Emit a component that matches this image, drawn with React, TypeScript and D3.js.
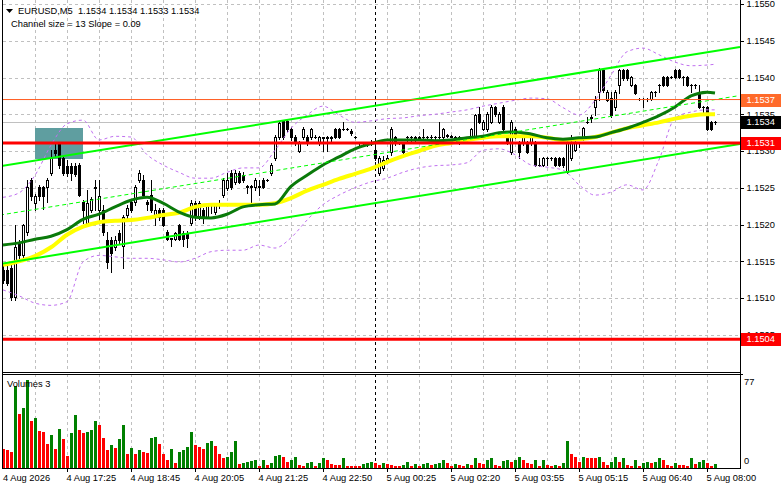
import React from "react";
import * as d3 from "d3";

// ---------- DATA ----------
const opens = [
1.15138,1.15138,1.15141,1.15101,1.15175,1.15158,1.15190,1.15261,1.15229,1.15251,
1.15251,1.15251,1.15270,1.15301,1.15311,1.15290,1.15280,1.15280,1.15280,1.15281,
1.15231,1.15202,1.15220,1.15251,1.15220,1.15220,1.15179,1.15179,1.15169,1.15188,
1.15171,1.15213,1.15231,1.15231,1.15261,1.15261,1.15231,1.15240,1.15212,1.15220,
1.15220,1.15190,1.15180,1.15180,1.15199,1.15188,1.15188,1.15202,1.15229,1.15210,
1.15220,1.15210,1.15227,1.15217,1.15227,1.15240,1.15250,1.15270,1.15258,1.15270,
1.15267,1.15251,1.15251,1.15251,1.15252,1.15261,1.15261,1.15270,1.15290,1.15319,
1.15341,1.15341,1.15330,1.15319,1.15300,1.15319,1.15319,1.15319,1.15319,1.15311,
1.15318,1.15319,1.15318,1.15330,1.15330,1.15330,1.15330,1.15327,1.15319,1.15311,
1.15311,1.15311,1.15311,1.15301,1.15270,1.15277,1.15288,1.15299,1.15319,1.15311,
1.15311,1.15319,1.15319,1.15319,1.15318,1.15319,1.15319,1.15319,1.15319,1.15319,
1.15319,1.15322,1.15320,1.15319,1.15319,1.15312,1.15315,1.15319,1.15319,1.15350,
1.15330,1.15330,1.15339,1.15360,1.15339,1.15360,1.15319,1.15299,1.15330,1.15311,
1.15311,1.15311,1.15311,1.15311,1.15281,1.15281,1.15290,1.15290,1.15290,1.15290,
1.15290,1.15271,1.15290,1.15301,1.15311,1.15319,1.15339,1.15345,1.15360,1.15380,
1.15410,1.15369,1.15372,1.15360,1.15390,1.15410,1.15410,1.15390,1.15390,1.15371,
1.15371,1.15371,1.15371,1.15380,1.15390,1.15401,1.15401,1.15401,1.15410,1.15410,
1.15401,1.15401,1.15390,1.15390,1.15380,1.15360,1.15360,1.15339,1.15340];

const highs = [
1.15145,1.15144,1.15145,1.15199,1.15179,1.15201,1.15261,1.15263,1.15241,1.15254,
1.15252,1.15263,1.15301,1.15311,1.15312,1.15293,1.15288,1.15284,1.15284,1.15284,
1.15233,1.15247,1.15237,1.15261,1.15261,1.15227,1.15190,1.15183,1.15184,1.15193,
1.15213,1.15227,1.15233,1.15254,1.15274,1.15267,1.15233,1.15261,1.15228,1.15222,
1.15222,1.15193,1.15182,1.15190,1.15201,1.15191,1.15191,1.15233,1.15232,1.15232,
1.15222,1.15229,1.15229,1.15229,1.15233,1.15263,1.15270,1.15274,1.15274,1.15273,
1.15271,1.15254,1.15254,1.15263,1.15261,1.15263,1.15262,1.15284,1.15322,1.15341,
1.15342,1.15342,1.15333,1.15322,1.15314,1.15333,1.15322,1.15331,1.15322,1.15320,
1.15319,1.15320,1.15320,1.15331,1.15331,1.15339,1.15331,1.15330,1.15320,1.15312,
1.15312,1.15312,1.15315,1.15307,1.15293,1.15293,1.15295,1.15333,1.15320,1.15312,
1.15312,1.15320,1.15320,1.15320,1.15320,1.15330,1.15320,1.15322,1.15320,1.15339,
1.15331,1.15323,1.15322,1.15320,1.15320,1.15319,1.15319,1.15331,1.15350,1.15360,
1.15342,1.15353,1.15363,1.15361,1.15353,1.15363,1.15322,1.15342,1.15333,1.15314,
1.15322,1.15314,1.15322,1.15314,1.15290,1.15292,1.15292,1.15292,1.15292,1.15292,
1.15292,1.15315,1.15322,1.15315,1.15312,1.15333,1.15346,1.15349,1.15375,1.15413,
1.15413,1.15383,1.15380,1.15383,1.15412,1.15412,1.15412,1.15402,1.15391,1.15372,
1.15372,1.15372,1.15382,1.15382,1.15391,1.15402,1.15402,1.15402,1.15412,1.15412,
1.15402,1.15402,1.15391,1.15391,1.15390,1.15361,1.15361,1.15341,1.15341];

const lows = [
1.15120,1.15118,1.15097,1.15097,1.15154,1.15154,1.15186,1.15233,1.15220,1.15233,
1.15221,1.15231,1.15267,1.15293,1.15277,1.15267,1.15266,1.15261,1.15266,1.15239,
1.15202,1.15198,1.15217,1.15220,1.15206,1.15186,1.15141,1.15135,1.15165,1.15173,
1.15141,1.15209,1.15217,1.15227,1.15258,1.15237,1.15220,1.15217,1.15199,1.15206,
1.15198,1.15179,1.15171,1.15179,1.15179,1.15171,1.15169,1.15199,1.15206,1.15208,
1.15202,1.15209,1.15216,1.15214,1.15222,1.15237,1.15247,1.15248,1.15255,1.15256,
1.15258,1.15243,1.15229,1.15247,1.15240,1.15250,1.15259,1.15267,1.15288,1.15316,
1.15316,1.15327,1.15315,1.15308,1.15299,1.15316,1.15308,1.15316,1.15318,1.15308,
1.15300,1.15300,1.15311,1.15318,1.15318,1.15329,1.15329,1.15322,1.15318,1.15305,
1.15307,1.15307,1.15308,1.15288,1.15267,1.15274,1.15285,1.15295,1.15308,1.15310,
1.15297,1.15311,1.15312,1.15311,1.15316,1.15318,1.15315,1.15311,1.15311,1.15318,
1.15318,1.15319,1.15319,1.15311,1.15310,1.15311,1.15314,1.15318,1.15316,1.15338,
1.15329,1.15327,1.15338,1.15348,1.15338,1.15327,1.15310,1.15296,1.15318,1.15290,
1.15308,1.15297,1.15308,1.15280,1.15280,1.15280,1.15281,1.15288,1.15280,1.15280,
1.15278,1.15270,1.15288,1.15300,1.15305,1.15315,1.15338,1.15339,1.15349,1.15369,
1.15380,1.15368,1.15346,1.15356,1.15379,1.15397,1.15397,1.15388,1.15378,1.15369,
1.15360,1.15368,1.15369,1.15375,1.15380,1.15388,1.15388,1.15399,1.15399,1.15399,
1.15390,1.15388,1.15380,1.15386,1.15358,1.15349,1.15329,1.15329,1.15337];

const closes = [
1.15124,1.15120,1.15101,1.15169,1.15158,1.15199,1.15251,1.15239,1.15239,1.15239,
1.15239,1.15261,1.15290,1.15297,1.15281,1.15270,1.15270,1.15270,1.15269,1.15240,
1.15220,1.15229,1.15235,1.15250,1.15239,1.15190,1.15149,1.15161,1.15179,1.15179,
1.15210,1.15222,1.15220,1.15251,1.15270,1.15240,1.15228,1.15220,1.15220,1.15210,
1.15199,1.15180,1.15181,1.15188,1.15180,1.15180,1.15182,1.15229,1.15210,1.15229,
1.15210,1.15227,1.15226,1.15227,1.15229,1.15261,1.15261,1.15251,1.15270,1.15258,
1.15261,1.15252,1.15252,1.15261,1.15251,1.15251,1.15261,1.15281,1.15319,1.15338,
1.15319,1.15330,1.15319,1.15311,1.15311,1.15330,1.15311,1.15330,1.15319,1.15319,
1.15319,1.15318,1.15319,1.15319,1.15319,1.15330,1.15330,1.15324,1.15319,1.15311,
1.15311,1.15311,1.15311,1.15290,1.15290,1.15288,1.15290,1.15330,1.15311,1.15311,
1.15299,1.15319,1.15319,1.15318,1.15319,1.15319,1.15319,1.15319,1.15319,1.15319,
1.15330,1.15320,1.15319,1.15319,1.15311,1.15315,1.15318,1.15330,1.15349,1.15339,
1.15339,1.15350,1.15360,1.15350,1.15350,1.15330,1.15311,1.15339,1.15319,1.15299,
1.15319,1.15299,1.15319,1.15281,1.15281,1.15290,1.15290,1.15290,1.15281,1.15281,
1.15281,1.15311,1.15311,1.15311,1.15311,1.15331,1.15339,1.15346,1.15369,1.15410,
1.15383,1.15380,1.15349,1.15380,1.15410,1.15399,1.15399,1.15401,1.15379,1.15371,
1.15371,1.15371,1.15380,1.15380,1.15390,1.15390,1.15390,1.15401,1.15401,1.15401,
1.15401,1.15390,1.15390,1.15390,1.15360,1.15360,1.15330,1.15330,1.15340];

const volumes = [
16,15,14,72,47,52,77,41,44,32,31,21,29,16,34,25,10,30,46,33,
30,31,33,41,37,26,15,20,17,25,37,12,17,12,15,14,13,26,27,21,
12,7,16,4,14,15,18,31,20,18,16,22,23,19,12,8,9,14,23,3,
4,5,6,7,1,7,2,4,10,11,9,5,7,9,2,1,4,5,1,4,
8,7,3,2,2,8,1,1,1,1,3,4,5,4,2,4,3,2,1,1,
2,5,1,3,1,3,4,2,3,4,7,4,1,3,2,1,3,2,8,4,
3,7,8,2,1,6,7,5,7,9,7,4,3,7,1,7,2,1,2,1,
4,23,12,9,5,9,8,8,8,9,5,2,5,9,5,8,2,1,7,1,
4,5,4,5,8,7,2,1,4,2,2,1,8,3,5,7,4,1,3];

const maIdx = [0,4,8,12,16,20,24,28,32,36,40,44,48,52,56,60,64,68,72,76,80,84,88,92,96,100,104,108,112,116,120,124,128,132,136,140,144,148,152,156,160,164,168,172,176,178];
const greenMA = [
1.15172,1.15175,1.15180,1.15184,1.15193,1.15207,1.15214,1.15224,1.15233,1.15237,
1.15229,1.15217,1.15210,1.15209,1.15214,1.15224,1.15227,1.15228,1.15252,1.15267,
1.15281,1.15292,1.15303,1.15310,1.15315,1.15315,1.15315,1.15314,1.15315,1.15318,
1.15320,1.15325,1.15326,1.15323,1.15318,1.15316,1.15318,1.15319,1.15325,1.15331,
1.15339,1.15348,1.15360,1.15375,1.15380,1.15379];
const yellowMA = [
1.15145,1.15150,1.15157,1.15169,1.15186,1.15197,1.15203,1.15205,1.15206,1.15209,
1.15213,1.15216,1.15224,1.15227,1.15227,1.15227,1.15227,1.15229,1.15236,1.15246,
1.15254,1.15262,1.15269,1.15276,1.15285,1.15293,1.15300,1.15307,1.15311,1.15315,
1.15318,1.15320,1.15320,1.15320,1.15318,1.15315,1.15316,1.15319,1.15325,1.15331,
1.15335,1.15339,1.15344,1.15348,1.15350,1.15350];
const bandUpper = [
1.15237,1.15243,1.15267,1.15308,1.15337,1.15342,1.15315,1.15320,1.15319,1.15295,
1.15281,1.15271,1.15263,1.15263,1.15271,1.15277,1.15277,1.15301,1.15331,1.15349,
1.15361,1.15349,1.15339,1.15341,1.15344,1.15345,1.15348,1.15350,1.15353,1.15356,
1.15361,1.15365,1.15369,1.15372,1.15371,1.15359,1.15349,1.15369,1.15403,1.15435,
1.15440,1.15431,1.15421,1.15416,1.15417,1.15418];
const bandLower = [
1.15111,1.15103,1.15093,1.15090,1.15095,1.15149,1.15158,1.15156,1.15154,1.15154,
1.15152,1.15149,1.15154,1.15163,1.15165,1.15165,1.15172,1.15168,1.15182,1.15206,
1.15227,1.15240,1.15250,1.15258,1.15263,1.15271,1.15277,1.15280,1.15281,1.15284,
1.15301,1.15303,1.15295,1.15281,1.15278,1.15274,1.15254,1.15240,1.15244,1.15254,
1.15247,1.15288,1.15345,1.15353,1.15356,1.15356];

const channelIdx = [0, 178];
const channelUpper = [1.15280, 1.15436];
const channelLower = [1.15147, 1.15304];

const zoneIdx = [8, 20];
const zonePrice = [1.15289, 1.15331];

const supportLevels = [1.15311, 1.15044];
const askLevel = 1.1537;
const bidLevel = 1.1534;

const priceTicks = [1.1505, 1.151, 1.1515, 1.152, 1.1525, 1.153, 1.1535, 1.154, 1.1545, 1.155];
const timeLabelIdx = [0, 16, 32, 48, 64, 80, 96, 112, 128, 144, 160, 176];
const timeLabels = ["4 Aug 2026", "4 Aug 17:25", "4 Aug 18:45", "4 Aug 20:05", "4 Aug 21:25", "4 Aug 22:50",
  "5 Aug 00:25", "5 Aug 02:20", "5 Aug 03:55", "5 Aug 05:15", "5 Aug 06:40", "5 Aug 08:00"];
const separatorIdx = 93;
const volMax = 77;

// ---------- LAYOUT ----------
const W = 781, H = 489;
const L = 3, R = 740, MAIN_B = 372, VOL_T = 374, VOL_B = 468;
const FONT = "'Liberation Sans', Arial, sans-serif";
const FS = 9.3;

export default function App() {
  const x = d3.scaleLinear().domain([0, 178]).range([3, 715]);
  const y = d3.scaleLinear().domain([1.151, 1.155]).range([298, 4]);
  const yv = d3.scaleLinear().domain([0, volMax]).range([467.5, 380]);

  const gridIdx = d3.range(8, 179, 8);
  const px = (i: number) => Math.round(x(i));

  const lineGen = d3.line<[number, number]>().x(d => x(d[0])).y(d => y(d[1])).curve(d3.curveMonotoneX);
  const mk = (arr: number[]) => lineGen(arr.map((v, k) => [maIdx[k], v] as [number, number])) || "";

  // channel extension to right axis
  const iLeft = x.invert(L), iRight = x.invert(R);
  const chan = (vals: number[], i: number) => vals[0] + (vals[1] - vals[0]) * (i - channelIdx[0]) / (channelIdx[1] - channelIdx[0]);
  const chanMid = [ (channelUpper[0] + channelLower[0]) / 2, (channelUpper[1] + channelLower[1]) / 2 ];

  const candles = opens.map((o, i) => {
    const c = closes[i];
    const h = Math.max(highs[i], o, c), l = Math.min(lows[i], o, c);
    const cx = px(i);
    const yTop = Math.round(y(Math.max(o, c)));
    const yBot = Math.round(y(Math.min(o, c)));
    const bull = c > o;
    const els: any[] = [];
    els.push(<line key="w" x1={cx + 0.5} x2={cx + 0.5} y1={Math.round(y(h))} y2={Math.round(y(l)) + 1} stroke="#000" strokeWidth={1} />);
    if (yBot - yTop < 1) {
      els.push(<line key="d" x1={cx - 1} x2={cx + 2} y1={yTop + 0.5} y2={yTop + 0.5} stroke="#000" strokeWidth={1} />);
    } else if (bull) {
      els.push(<rect key="b" x={cx - 0.5} y={yTop + 0.5} width={2} height={Math.max(1, yBot - yTop)} fill="#fff" stroke="#000" strokeWidth={1} />);
    } else {
      els.push(<rect key="b" x={cx - 1} y={yTop} width={3} height={Math.max(1, yBot - yTop + 1)} fill="#000" />);
    }
    return <g key={i}>{els}</g>;
  });

  const volBars = volumes.map((v, i) => {
    const up = i > 0 && v > volumes[i - 1];
    const top = Math.round(yv(v));
    return <rect key={i} x={px(i) - 1} y={top} width={3} height={Math.max(1, 468 - top)} fill={up ? "#008000" : "#ff0000"} />;
  });

  const labelBox = (p: number, bg: string, key: string) => {
    const yy = Math.round(y(p));
    return (
      <g key={key}>
        <rect x={741} y={yy - 6} width={40} height={13} fill={bg} />
        <text x={746.5} y={yy} dy="0.35em" fill="#fff" fontSize={FS} fontFamily={FONT}>{p.toFixed(4)}</text>
      </g>
    );
  };

  return (
    <svg width={W} height={H} style={{ position: "absolute", left: 0, top: 0, background: "#fff" }} xmlns="http://www.w3.org/2000/svg">
      <rect x={0} y={0} width={W} height={H} fill="#fff" />
      <defs>
        <clipPath id="mainClip"><rect x={L} y={0} width={R - L} height={MAIN_B} /></clipPath>
      </defs>

      {/* grid main */}
      <g stroke="#c0c0c0" strokeWidth={1} strokeDasharray="3,3">
        {priceTicks.map(p => <line key={p} x1={L} x2={R} y1={Math.round(y(p)) + 0.5} y2={Math.round(y(p)) + 0.5} />)}
        {gridIdx.filter(i => i !== separatorIdx).map(i => <line key={"v" + i} x1={px(i) + 0.5} x2={px(i) + 0.5} y1={0} y2={MAIN_B} />)}
        {gridIdx.map(i => <line key={"vv" + i} x1={px(i) + 0.5} x2={px(i) + 0.5} y1={VOL_T} y2={VOL_B} />)}
      </g>
      {/* period separator */}
      <g stroke="#000" strokeWidth={1} strokeDasharray="3,3">
        <line x1={px(separatorIdx) + 0.5} x2={px(separatorIdx) + 0.5} y1={0} y2={MAIN_B} />
        <line x1={px(separatorIdx) + 0.5} x2={px(separatorIdx) + 0.5} y1={VOL_T} y2={VOL_B} />
      </g>

      <g clipPath="url(#mainClip)">
        {/* zone rectangle */}
        <rect x={px(zoneIdx[0])} y={Math.round(y(zonePrice[1]))} width={px(zoneIdx[1]) - px(zoneIdx[0])}
          height={Math.round(y(zonePrice[0])) - Math.round(y(zonePrice[1]))} fill="#5f9ea0" />
        {/* bid line */}
        <line x1={L} x2={R} y1={Math.round(y(bidLevel)) + 0.5} y2={Math.round(y(bidLevel)) + 0.5} stroke="#c0c0c0" strokeWidth={1} />
        {candles}
        {/* bands */}
        <path d={mk(bandUpper)} fill="none" stroke="#c070f0" strokeWidth={1} strokeDasharray="3,3" />
        <path d={mk(bandLower)} fill="none" stroke="#c070f0" strokeWidth={1} strokeDasharray="3,3" />
        {/* MAs */}
        <path d={mk(yellowMA)} fill="none" stroke="#ffff00" strokeWidth={4} strokeLinejoin="round" />
        <path d={mk(greenMA)} fill="none" stroke="#0a7a0a" strokeWidth={3} strokeLinejoin="round" />
        {/* channel */}
        <line x1={x(iLeft) - 3} x2={R} y1={y(chan(channelUpper, iLeft - 0.75))} y2={y(chan(channelUpper, iRight))} stroke="#00ff00" strokeWidth={2} />
        <line x1={x(iLeft) - 3} x2={R} y1={y(chan(channelLower, iLeft - 0.75))} y2={y(chan(channelLower, iRight))} stroke="#00ff00" strokeWidth={2} />
        <line x1={x(iLeft) - 3} x2={R - 2} y1={y(chan(chanMid, iLeft - 0.75))} y2={y(chan(chanMid, iRight - 0.5))} stroke="#00ff00" strokeWidth={1} strokeDasharray="4,3" />
        {/* horizontal levels */}
        <line x1={L} x2={R} y1={y(askLevel)} y2={y(askLevel)} stroke="#ff5a1e" strokeWidth={1} />
        {supportLevels.map(p => <line key={p} x1={L} x2={R} y1={y(p)} y2={y(p)} stroke="#ff0000" strokeWidth={3} />)}
      </g>

      {/* volumes */}
      {volBars}

      {/* frames */}
      <g stroke="#000" strokeWidth={1}>
        <line x1={2.5} x2={2.5} y1={0} y2={VOL_B} />
        <line x1={R + 0.5} x2={R + 0.5} y1={0} y2={VOL_B + 0.5} />
        <line x1={2} x2={R + 1} y1={MAIN_B + 0.5} y2={MAIN_B + 0.5} />
        <line x1={2} x2={R + 3} y1={VOL_T + 0.5} y2={VOL_T + 0.5} />
        <line x1={2} x2={R + 1} y1={VOL_B + 0.5} y2={VOL_B + 0.5} />
        {priceTicks.map(p => <line key={"t" + p} x1={R} x2={R + 4} y1={Math.round(y(p)) + 0.5} y2={Math.round(y(p)) + 0.5} />)}
        {timeLabelIdx.slice(1).map(i => <line key={"xt" + i} x1={px(i) + 0.5} x2={px(i) + 0.5} y1={VOL_B} y2={VOL_B + 4} />)}
      </g>

      {/* price axis labels */}
      <g fontFamily={FONT} fontSize={FS} fill="#000">
        {priceTicks.map(p => <text key={p} x={746.5} y={y(p)} dy="0.35em">{p.toFixed(4)}</text>)}
        <text x={744} y={381.5} dy="0.35em">{volMax}</text>
        <text x={744} y={461} dy="0.35em">0</text>
        {timeLabels.map((t, k) => <text key={t} x={k === 0 ? 3 : px(timeLabelIdx[k]) - 0.5} y={481}>{t}</text>)}
      </g>

      {labelBox(askLevel, "#ff6a2a", "ask")}
      {labelBox(bidLevel, "#000000", "bid")}
      {labelBox(supportLevels[0], "#ff0000", "s1")}
      {labelBox(supportLevels[1], "#ff0000", "s2")}

      {/* header */}
      <path d="M6,9 L13,9 L9.5,13 Z" fill="#000" />
      <text x={18} y={14} fontFamily={FONT} fontSize={FS} fill="#000" style={{ whiteSpace: "pre" }}>{"EURUSD,M5  1.1534 1.1534 1.1533 1.1534"}</text>
      <text x={11} y={27} fontFamily={FONT} fontSize={FS} fill="#000">Channel size = 13 Slope = 0.09</text>
      <text x={7} y={387} fontFamily={FONT} fontSize={FS} fill="#000">Volumes 3</text>
    </svg>
  );
}
